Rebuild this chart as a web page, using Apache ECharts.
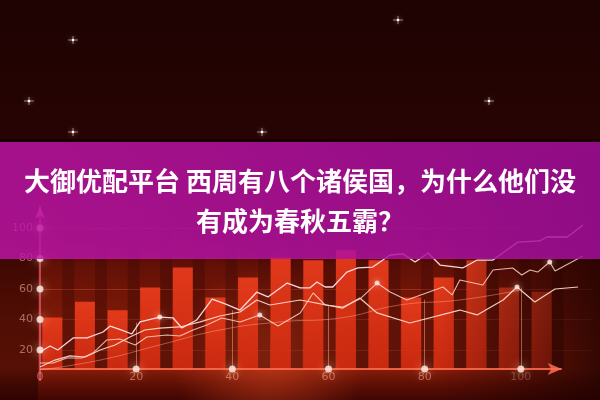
<!DOCTYPE html>
<html>
<head>
<meta charset="utf-8">
<script src="https://cdn.jsdelivr.net/npm/echarts@6/dist/echarts.min.js"></script>
<style>html,body{margin:0;padding:0;background:#1c0302;}#c{width:600px;height:400px;}</style>
</head>
<body>
<div id="c"></div>
<script>
// ---- data ----
const titleText = '大御优配平台 西周有八个诸侯国，为什么他们没\n有成为春秋五霸？';
const xTickLabels = ['0', '20', '40', '60', '80', '100'];
const yTickLabels = ['20', '40', '60', '80', '100'];
const barCategories = ['1','2','3','4','5','6','7','8','9','10','11','12','13','14','15','16'];
const barValues = [36, 47, 41, 57, 71, 50, 64, 78, 76, 83, 76, 50, 64, 76, 57, 54];
const stripeValues = [100,100,100,100,100,100,100,100,100,100,100,100,100,100,100,100];
const lineA = [[0,18.7],[2.1,22.6],[3.7,20],[6.9,27.9],[9.8,27.9],[13.1,31.8],[14.6,35.7],[17,33.1],[19.1,30.5],[20.8,38.4],[24.9,41.6],[27.7,41],[29.5,34.4],[32.6,39.7],[35.8,53.4],[38.5,50.2],[41.6,46.2],[45.1,58],[47.4,54.8],[51.4,63.9],[54.1,60.7],[56.1,60.7],[57.6,64.6],[59.3,61.3],[60.9,61.3],[63.8,71.1],[66.1,73.8],[69.2,74.4],[72.8,82.3],[75.5,83],[78,77.7],[80.7,83.6],[83.2,75.7],[87.9,73.8],[90.9,79],[94.2,79],[99.4,90.8],[103.9,91.5],[105.4,94.1],[109.6,94.1],[110.8,96.7],[112.9,102]];
const lineB = [[0,11.5],[2.7,11.5],[5.6,14.8],[8.7,14.8],[11,18],[13.9,26.6],[16.6,27.2],[19.8,23.3],[22.2,28.5],[26.4,29.8],[29.1,29.2],[31.8,33.1],[34.7,36.4],[37.8,41],[41.6,38.4],[45.7,42.9],[49.5,35.7],[54.1,44.3],[56.8,57.4],[59.3,49.5],[63,48.2],[66.5,53.4],[70.1,63.9],[72.8,58],[76.3,52.8],[83.8,61.3],[85.7,56.1],[87.3,65.9],[92.1,62.6],[94.2,72.5],[98.3,73.8],[100.2,69.2],[101.9,72.5],[103.5,71.1],[106,77.7],[107.1,71.8],[112.9,81.6]];
const lineC = [[0,8.9],[3.1,13.4],[6.2,16.1],[9.4,15.4],[12.5,20],[15.6,23.3],[18.7,28.5],[21.8,33.1],[24.9,34.4],[29.1,35.1],[33.3,38.4],[37.4,42.3],[41.6,44.9],[45.1,52.8],[47.8,49.5],[54.1,52.8],[63,47.5],[66.5,54.1],[70.1,44.3],[76.9,37.7],[87.3,46.2],[90.9,43],[96.3,52.8],[99.2,61.3],[102.9,51.5],[107.1,60],[111.9,61.3]];
const lineD = [[0,6.9],[12.5,13.4],[24.9,23.3],[37.4,33.1],[49.9,38.4],[62.4,41],[74.8,49.5],[87.3,52.8],[99.8,59.3]];
const lineDotPoints = [[24.9,41.6],[45.7,42.9],[70.1,63.9],[106,77.7],[99.2,61.3]];
const yAxisDots = [[0,20],[0,40],[0,60],[0,80],[0,100]];
const xAxisDots = [[20,7.5],[40,7.5],[60,7.5],[80,7.5],[100,7.5]];
const dropLines = [[20,38],[40,46],[60,49.5],[80,53],[100,61]];
const baseLineValue = 7.5;
const stars = [[73,40],[29,101],[73,132],[262,132],[398,20],[489,101]];

// ---- chart ----
const chart = echarts.init(document.getElementById('c'));
const starGraphics = [];
stars.forEach(function (s) {
  starGraphics.push({type:'rect', z:1, shape:{x:s[0]-5,y:s[1]-0.5,width:10,height:1}, style:{fill:'rgba(255,225,215,0.55)'}});
  starGraphics.push({type:'rect', z:1, shape:{x:s[0]-0.5,y:s[1]-4,width:1,height:8}, style:{fill:'rgba(255,225,215,0.55)'}});
  starGraphics.push({type:'circle', z:1, shape:{cx:s[0],cy:s[1],r:1.3}, style:{fill:'#fff', shadowBlur:5, shadowColor:'#ffe0d0'}});
});
const splitColors = ['transparent','rgba(255,120,100,0.28)','rgba(255,120,100,0.28)','rgba(255,120,100,0.28)','rgba(255,120,100,0.28)','rgba(255,120,100,0.2)','transparent'];

chart.setOption({
  animation: false,
  backgroundColor: {type:'linear', x:0, y:0, x2:0, y2:1, colorStops:[
    {offset:0, color:'#1d0302'}, {offset:0.35, color:'#270403'}, {offset:0.6, color:'#3e0805'},
    {offset:0.66, color:'#621006'}, {offset:0.8, color:'#7e1a08'}, {offset:0.92, color:'#8a1e0a'}, {offset:0.96, color:'#5e0f05'}, {offset:1, color:'#400703'}]},
  title: {
    text: titleText, left: 'center', top: 161, padding: 0, z: 100,
    textStyle: {color:'#ffffff', fontSize:26, fontWeight:'bold', fontFamily:'Noto Sans CJK SC', lineHeight:40}
  },
  graphic: [
    {type:'rect', z:0, shape:{x:0,y:240,width:600,height:160}, style:{fill:{type:'radial', x:0.45, y:0.75, r:0.6, colorStops:[{offset:0,color:'rgba(220,70,30,0.55)'},{offset:1,color:'rgba(220,70,30,0)'}]}}},
    {type:'rect', z:0, shape:{x:0,y:150,width:38,height:250}, style:{fill:'rgba(25,0,0,0.45)'}},
    {type:'rect', z:3, shape:{x:440,y:150,width:160,height:250}, style:{fill:{type:'linear', x:0, y:0, x2:1, y2:0, colorStops:[{offset:0,color:'rgba(25,0,0,0)'},{offset:1,color:'rgba(25,0,0,0.75)'}]}}},
    {type:'rect', z:50, shape:{x:0,y:142,width:600,height:117}, style:{fill:{type:'linear', x:0, y:0, x2:1, y2:0, colorStops:[{offset:0,color:'rgba(190,20,165,0.84)'},{offset:1,color:'rgba(165,14,158,0.84)'}]}}},
    {type:'rect', z:50, shape:{x:0,y:139,width:600,height:3}, style:{fill:'rgba(15,0,0,0.6)'}}
  ].concat(starGraphics),
  grid: [
    {left:40, right:7, top:206.65, bottom:19.5},
    {left:36, right:42, top:226, bottom:31},
    {left:52, right:26, top:226, bottom:31}
  ],
  xAxis: [
    {type:'value', gridIndex:0, min:0, max:115, interval:20,
     axisLine:{show:false}, axisTick:{show:false}, splitLine:{show:false},
     axisLabel:{margin:-3, verticalAlign:'middle', color:'rgba(255,170,150,0.55)', fontSize:11, fontFamily:'DejaVu Sans',
       formatter:function(v){ const i = v/20; return (Number.isInteger(i) && i < xTickLabels.length) ? xTickLabels[i] : ''; }}},
    {type:'category', gridIndex:1, data:barCategories, show:false},
    {type:'category', gridIndex:2, data:barCategories, show:false}
  ],
  yAxis: [
    {type:'value', gridIndex:0, min:0, max:114, interval:20,
     axisLine:{show:true, symbol:['none','arrow'], symbolSize:[8,12], lineStyle:{color:'rgba(255,110,150,0.75)', width:1.5}},
     axisTick:{show:false},
     splitLine:{show:true, lineStyle:{color:splitColors, width:1}},
     axisLabel:{margin:7, color:'rgba(255,185,175,0.55)', fontSize:11, fontFamily:'DejaVu Sans',
       formatter:function(v){ const i = v/20 - 1; return (Number.isInteger(i) && i >= 0 && i < yTickLabels.length) ? yTickLabels[i] : ''; }}},
    {type:'value', gridIndex:1, min:0, max:100, show:false},
    {type:'value', gridIndex:2, min:0, max:100, show:false}
  ],
  series: [
    {type:'bar', xAxisIndex:2, yAxisIndex:2, data:stripeValues, barWidth:12, z:1,
     itemStyle:{color:{type:'linear', x:0, y:0, x2:0, y2:1, colorStops:[{offset:0,color:'rgba(30,0,0,0.15)'},{offset:1,color:'rgba(30,0,0,0.4)'}]}}},
    {type:'bar', xAxisIndex:1, yAxisIndex:1, data:barValues, barWidth:20, z:2,
     itemStyle:{color:{type:'linear', x:0, y:0, x2:0, y2:1, colorStops:[{offset:0,color:'rgba(235,60,28,0.92)'},{offset:1,color:'rgba(205,42,16,0.92)'}]}}},
    {type:'line', data:lineD, smooth:true, symbol:'none', clip:false, z:4, lineStyle:{color:'rgba(255,170,150,0.45)', width:1}},
    {type:'line', data:lineC, symbol:'none', clip:false, z:4, lineStyle:{color:'rgba(255,225,210,0.9)', width:1.2}},
    {type:'line', data:lineB, symbol:'none', clip:false, z:4, lineStyle:{color:'rgba(255,210,200,0.85)', width:1.1}},
    {type:'line', data:lineA, symbol:'none', clip:false, z:4, lineStyle:{color:'rgba(255,225,235,0.95)', width:1.3}},
    {type:'scatter', data:lineDotPoints, symbolSize:5, z:5, itemStyle:{color:'#fff0e8', shadowBlur:6, shadowColor:'#ffd0c0'}},
    {type:'scatter', data:yAxisDots.concat(xAxisDots), symbolSize:7, z:5, clip:false,
     itemStyle:{color:'#fff4ea', shadowBlur:10, shadowColor:'#ffc0a0'},
     markLine:{silent:true, symbol:['none','none'], label:{show:false}, z:3,
       lineStyle:{color:'rgba(255,150,130,0.55)', width:1, type:'solid'},
       data: dropLines.map(function(d){ return [{coord:[d[0], baseLineValue]},{coord:[d[0], d[1]]}]; }).concat([
         [{coord:[0, baseLineValue], lineStyle:{color:'rgba(255,110,80,0.85)', width:1.8}},
          {coord:[108.5, baseLineValue], symbol:'arrow', symbolSize:[9,14]}]
       ])}}
  ]
});
</script>
</body>
</html>
